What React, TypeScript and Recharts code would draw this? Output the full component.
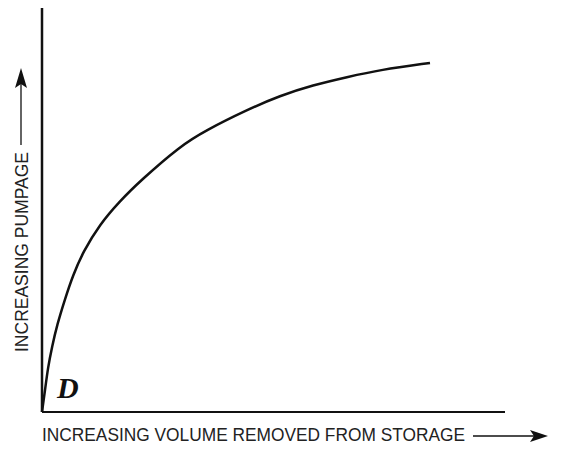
import { LineChart, Line, XAxis, YAxis, ReferenceLine } from 'recharts'

// volume removed from storage (arbitrary units) vs pumpage
const volume = [0, 0.65, 1.3, 2.16, 3.24, 4.97, 6.7, 8.86, 12.5, 16.8, 21.2, 29.8, 35.2, 44.3, 51.4, 58.5, 65.9, 73, 83.8]
const pumpage = [0, 5.4, 11.1, 16.1, 21.5, 28, 33.9, 39.6, 46.5, 52.2, 57.2, 65.8, 69.6, 74.8, 78.3, 80.9, 82.9, 84.7, 86.4]

const xLabel = 'INCREASING VOLUME REMOVED FROM STORAGE'
const yLabel = 'INCREASING PUMPAGE'
const pointLabel = 'D'

const data = volume.map((v, i) => ({ volume: v, pumpage: pumpage[i] }))

const sans = '"Liberation Sans", Arial, Helvetica, sans-serif'

export default function App() {
  return (
    <div style={{ position: 'absolute', left: 0, top: 0, background: '#fff' }}>
      <LineChart
        width={582}
        height={449}
        data={data}
        margin={{ top: 8, right: 77, bottom: 37, left: 42 }}
      >
        <XAxis dataKey="volume" type="number" domain={[0, 100]} hide />
        <YAxis type="number" domain={[0, 100]} hide />
        <ReferenceLine x={0} stroke="#111" strokeWidth={2.5} />
        <ReferenceLine y={0} stroke="#111" strokeWidth={2} />
        <Line
          type="basis"
          dataKey="pumpage"
          stroke="#111"
          strokeWidth={2.5}
          dot={false}
          activeDot={false}
          isAnimationActive={false}
        />
        <text
          x={57}
          y={398}
          fontFamily='"Liberation Serif", "Times New Roman", serif'
          fontWeight="bold"
          fontStyle="italic"
          fontSize={30}
          fill="#111"
        >
          {pointLabel}
        </text>
        <text
          x={42}
          y={441}
          fontFamily={sans}
          fontSize={18}
          fill="#222"
          textLength={423}
          lengthAdjust="spacingAndGlyphs"
        >
          {xLabel}
        </text>
        <line x1={473} y1={436} x2={536} y2={436} stroke="#111" strokeWidth={1.3} />
        <path d="M548,436 L530,430 L534,436 L530,442 Z" fill="#111" />
        <text
          transform="translate(28, 252) rotate(-90)"
          x={0}
          y={0}
          fontFamily={sans}
          fontSize={18}
          fill="#222"
          textAnchor="middle"
          textLength={200}
          lengthAdjust="spacingAndGlyphs"
        >
          {yLabel}
        </text>
        <line x1={21} y1={145} x2={21} y2={80} stroke="#111" strokeWidth={1.3} />
        <path d="M21,68 L15,88 L21,84 L27,88 Z" fill="#111" />
      </LineChart>
    </div>
  )
}
